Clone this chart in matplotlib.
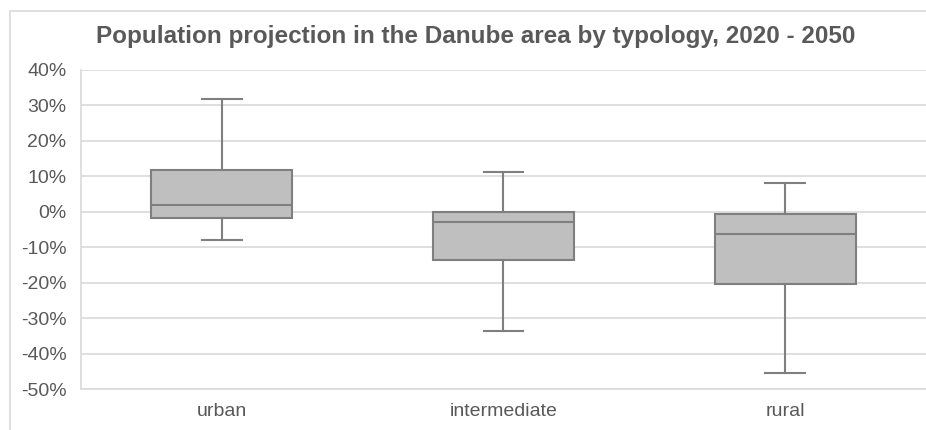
import matplotlib
matplotlib.use("Agg")
import matplotlib.pyplot as plt
from matplotlib.ticker import PercentFormatter

plt.rcParams['font.family'] = ['Liberation Sans', 'DejaVu Sans']
plt.rcParams['axes.unicode_minus'] = False

# box plot statistics (in %)
categories = ["urban", "intermediate", "rural"]
whisker_low = [-8.1, -33.6, -45.5]
q1 = [-1.8, -13.7, -20.5]
median = [1.9, -3.0, -6.2]
q3 = [11.9, 0.0, -0.6]
whisker_high = [31.8, 11.2, 8.2]

TEXT = "#595959"
GRID = "#D9D9D9"
EDGE = "#7F7F7F"
FILL = "#BFBFBF"

stats = []
for i, name in enumerate(categories):
    stats.append({"label": name, "whislo": whisker_low[i], "q1": q1[i],
                  "med": median[i], "q3": q3[i], "whishi": whisker_high[i],
                  "fliers": []})

W, H = 926, 430
fig = plt.figure(figsize=(W / 100, H / 100), dpi=100)
# outer chart border (runs off the right and bottom of the picture)
fig.patches.append(plt.Rectangle((10 / W, -0.05), 1.0, 1 - 11 / H + 0.05,
                                 transform=fig.transFigure,
                                 fill=False, edgecolor=GRID, linewidth=1.2))
ax = fig.add_axes([81 / W, 1 - 389 / H, (W - 81) / W, (389 - 70) / H])

ax.bxp(stats, positions=[0, 1, 2], widths=0.5, patch_artist=True, showfliers=False,
       boxprops=dict(facecolor=FILL, edgecolor=EDGE, linewidth=1.5),
       medianprops=dict(color=EDGE, linewidth=1.5),
       whiskerprops=dict(color=EDGE, linewidth=1.5),
       capprops=dict(color=EDGE, linewidth=1.5),
       capwidths=0.14)

ax.set_xlim(-0.5, 2.5)
ax.set_ylim(-50, 40)
ax.set_yticks(range(-50, 41, 10))
ax.yaxis.set_major_formatter(PercentFormatter(decimals=0))
ax.grid(axis='y', color=GRID, linewidth=1.2)
ax.set_axisbelow(True)
for side in ["top", "right"]:
    ax.spines[side].set_visible(False)
for side in ["left", "bottom"]:
    ax.spines[side].set_color(GRID)
    ax.spines[side].set_linewidth(1.2)
ax.tick_params(axis='both', length=0, colors=TEXT, labelsize=14)
ax.tick_params(axis='y', pad=10.5)
ax.tick_params(axis='x', pad=10)

fig.text(476 / W, 1 - 43 / H,
         "Population projection in the Danube area by typology, 2020 - 2050",
         ha="center", va="baseline", fontsize=17.5, fontweight="bold", color=TEXT)

fig.savefig("out.png", dpi=100)
